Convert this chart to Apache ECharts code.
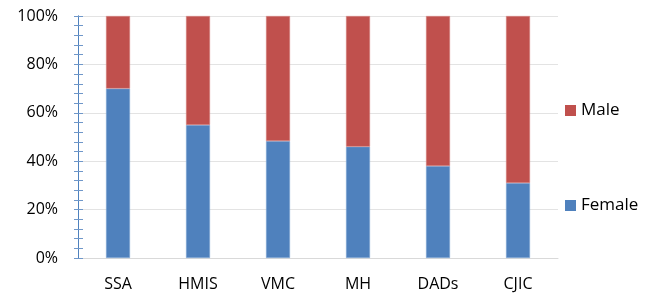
<!DOCTYPE html>
<html>
<head>
<meta charset="utf-8">
<script src="https://cdn.jsdelivr.net/npm/echarts@6/dist/echarts.min.js"></script>
<style>
  html, body { margin: 0; padding: 0; background: #fff; }
  #chart { width: 656px; height: 293px; }
</style>
</head>
<body>
<div id="chart"></div>
<script>
// units in percent of each group
const categories = ["SSA", "HMIS", "VMC", "MH", "DADs", "CJIC"];
const female = [70, 55, 48.3, 46, 38, 31];
const male = [30, 45, 51.7, 54, 62, 69];

const font = "'Open Sans', 'DejaVu Sans', sans-serif";
const chart = echarts.init(document.getElementById("chart"));

const baseY = {
  type: "value",
  min: 0,
  max: 100,
  interval: 20,
  axisLine: { show: true, lineStyle: { color: "#4f81bd", width: 1 } },
  minorTick: { show: true, splitNumber: 5, length: 4, lineStyle: { color: "#6f97c9" } },
  axisTick: { show: true, length: 4, lineStyle: { color: "#6f97c9" } }
};

chart.setOption({
  animation: false,
  grid: { left: 78, right: 98, top: 16, bottom: 35 },
  legend: {
    data: ["Male", "Female"],
    orient: "vertical",
    left: 560,
    top: 97,
    itemWidth: 11,
    itemHeight: 11,
    itemGap: 78,
    icon: "rect",
    itemStyle: { borderWidth: 0 },
    textStyle: { fontFamily: font, fontSize: 17, color: "#000", lineHeight: 16 }
  },
  xAxis: {
    type: "category",
    data: categories,
    axisLine: { lineStyle: { color: "#d9d9d9" } },
    axisTick: { show: false },
    axisLabel: { fontFamily: font, fontSize: 16, color: "#000", margin: 18 }
  },
  yAxis: [
    Object.assign({}, baseY, {
      axisLabel: { fontFamily: font, fontSize: 16, color: "#000", margin: 20, formatter: "{value}%" },
      splitLine: { show: true, lineStyle: { color: "#e3e3e3" } }
    }),
    Object.assign({}, baseY, {
      position: "left",
      axisTick: { show: true, inside: true, length: 5, lineStyle: { color: "#6f97c9" } },
      minorTick: { show: true, splitNumber: 5, length: 5, lineStyle: { color: "#6f97c9" } },
      axisLabel: { show: false },
      splitLine: { show: false }
    })
  ],
  series: [
    {
      name: "Female",
      type: "bar",
      stack: "total",
      data: female,
      barWidth: 24,
      itemStyle: { color: "#4f81bd", borderColor: "#8db0dc", borderWidth: 0.5 }
    },
    {
      name: "Male",
      type: "bar",
      stack: "total",
      data: male,
      barWidth: 24,
      itemStyle: { color: "#c0504d", borderColor: "#d88a88", borderWidth: 0.5 }
    }
  ]
});
</script>
</body>
</html>
